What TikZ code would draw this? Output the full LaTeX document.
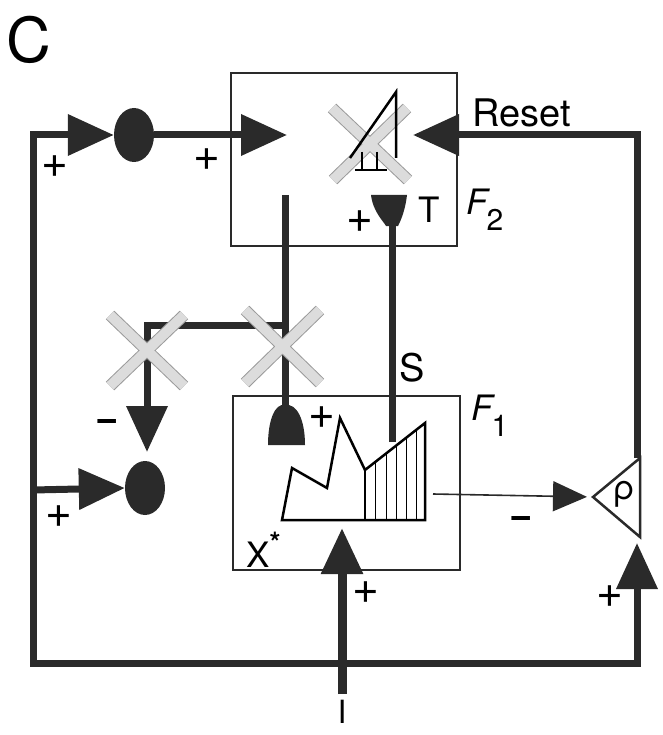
\documentclass[tikz,border=0pt]{standalone}
\usepackage{fontspec}
\setmainfont{TeX Gyre Heros}
\usepackage{tikz}
\usetikzlibrary{arrows.meta, shapes.geometric}
\definecolor{wirecol}{HTML}{2A2A2A}
\definecolor{crossedge}{HTML}{9A9A9A}
\definecolor{crossfill}{HTML}{DCDCDC}
\tikzset{
    wire/.style={draw=wirecol, line width=7pt},
    thinwire/.style={draw=wirecol, line width=1.6pt},
    bighead/.style={-{Triangle[length=46pt,width=40pt]}},
    smallhead/.style={-{Triangle[length=34pt,width=30pt]}},
    layerbox/.style={rectangle, draw=wirecol, line width=2.5pt, inner sep=0pt},
    gain/.style={ellipse, fill=wirecol, minimum width=40pt, minimum height=54pt, inner sep=0pt},
    crossout/.style={draw=crossedge, line width=1pt, double=crossfill, double distance=10pt},
    lbl/.style={inner sep=0pt, font=\fontsize{35}{35}\selectfont},
    sign/.style={inner sep=0pt, font=\fontsize{46}{46}\selectfont}
}
\begin{document}
\begin{tikzpicture}[x=1pt, y=-1pt]
    \useasboundingbox (0,0) rectangle (662,735);

    % layers
    \node[layerbox, minimum width=226pt, minimum height=173pt] (f2) at (344,159.5) {};
    \node[layerbox, minimum width=227pt, minimum height=174pt] (f1) at (346.5,483) {};
    \node[gain] (gtop) at (134,135) {};
    \node[gain] (gbot) at (145,488) {};

    \coordinate (lt) at (33,135);
    \coordinate (lm) at (33,490);
    \coordinate (ij) at (342,663);
    \coordinate (f2in) at (287,135);
    \coordinate (rsin) at (413,135);
    \coordinate (rhotop) at (637,458);
    \coordinate (rhoin) at (637,543);
    \coordinate (rhotip) at (593,497);
    \coordinate (f1in) at (342,528);
    \coordinate (f1out) at (433,494);
    \coordinate (f2d) at (285,195);
    \coordinate (bell) at (285,405);
    \coordinate (jx) at (285,325);
    \coordinate (mtip) at (147,452);
    \coordinate (tcup) at (392,222);
    \coordinate (s1) at (392,442);
    \coordinate (istem) at (342,694);

    % orienting node
    \draw[crossout] (332,108) -- (408,180) (333,180) -- (407,108);
    \draw[line width=2.5pt] (350,158) -- (396,92) -- (396,158);
    \draw[line width=2pt] (355,170) -- (387,170) (362,152) -- (362,170) (377,152) -- (377,170);

    % rho
    \draw[line width=2.5pt, draw=wirecol, line join=miter] (rhotip) -- (640,458) -- (640,537) -- cycle;
    \node[lbl, font=\fontsize{34}{34}\selectfont] (rho) at (624,494) {ρ};

    % pathways
    \draw[wire, bighead] (ij) -| (lt) -- (gtop.west);
    \draw[wire, bighead] (lm) -- (gbot.west);
    \draw[wire, bighead] (gtop.east) -- (f2in);
    \draw[wire, bighead] (ij) -| (rhoin);
    \draw[wire, bighead] (rhotop) |- (rsin);
    \draw[wire, line width=9pt, bighead] (istem) -- (f1in);
    \draw[wire] (f2d) -- (bell);
    \draw[wire, bighead] (jx) -| (mtip);
    \draw[wire] (s1) -- (tcup);
    \draw[thinwire, smallhead, shorten >=6pt] (f1out) -- (rhotip);

    % terminals
    \fill[wirecol] (371,195) -- (407,195) .. controls (405,212) and (400,222) .. (398,226)
        -- (386,226) .. controls (384,222) and (373,212) .. cycle;
    \fill[wirecol] (268,445) .. controls (268,420) and (275,403) .. (bell)
        .. controls (297,403) and (305,420) .. (305,445) -- cycle;

    % gated X
    \draw[crossout] (110,315) -- (184,386) (110,386) -- (184,315);
    \draw[crossout] (245,310) -- (320,383) (245,383) -- (320,310);

    % F1 pattern
    \draw[line width=2.5pt, line join=miter] (282,520) -- (292,468) -- (327,488) -- (340,418)
        -- (365,470) -- (425,423) -- (425,520) -- cycle;
    \foreach \hx/\hy in {365/470, 375/462, 386/453, 396/445, 406/437, 416/430}
        \draw[line width=1pt] (\hx,520) -- (\hx,\hy);
    \draw[line width=2.5pt] (365,470) -- (365,520);

    % labels
    \node[lbl, font=\fontsize{62}{62}\selectfont] (panel) at (29,40) {C};
    \node[lbl, font=\fontsize{38}{38}\selectfont] (reset) at (522,113) {Reset};
    \node[lbl] (tlbl) at (429,210) {T};
    \node[lbl, font=\fontsize{38}{38}\selectfont] (slbl) at (412,368) {S};
    \node[lbl, anchor=west] (xstar) at (246,550) {X\raisebox{15pt}{\fontsize{28}{28}\selectfont\bfseries *}};
    \node[lbl, anchor=west] (f2lbl) at (466,210) {\itshape F\kern-1pt\raisebox{-16pt}{\upshape\fontsize{30}{30}\selectfont 2}};
    \node[lbl, anchor=west] (f1lbl) at (471,416) {\itshape F\kern-1pt\raisebox{-16pt}{\upshape\fontsize{30}{30}\selectfont 1}};
    \node[lbl, font=\fontsize{32}{32}\selectfont] (inp) at (342,712) {I};

    \node[sign] (p1) at (55,167) {+};
    \node[sign] (p2) at (207,160) {+};
    \node[sign] (p3) at (360,222) {+};
    \node[sign] (p4) at (322,418) {+};
    \node[sign] (p5) at (59,517) {+};
    \node[sign] (p6) at (366,593) {+};
    \node[sign] (p7) at (610,597) {+};
    \node[sign, font=\fontsize{40}{40}\selectfont\bfseries] (m1) at (107,425) {−};
    \node[sign, font=\fontsize{40}{40}\selectfont\bfseries] (m2) at (521,522) {−};
\end{tikzpicture}
\end{document}
